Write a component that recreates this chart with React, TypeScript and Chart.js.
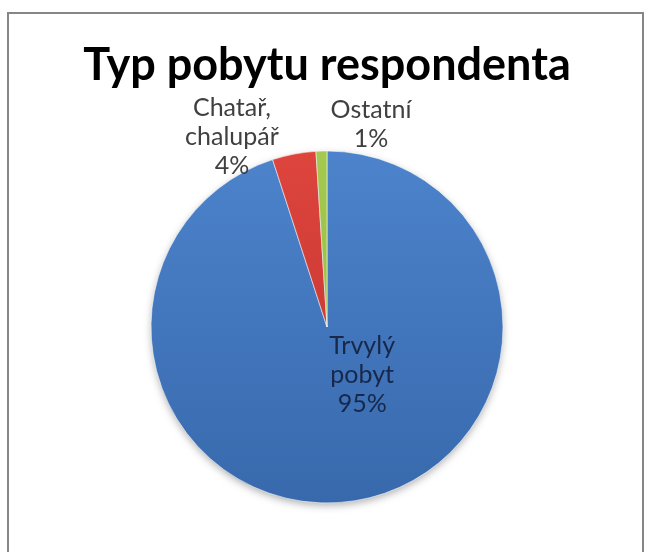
import React, { useEffect, useRef } from "react";
import { Chart, registerables } from "chart.js";
Chart.register(...registerables);

const TITLE = "Typ pobytu respondenta";
const categories = ["Trvylý pobyt", "Chatař, chalupář", "Ostatní"];
const labelLines = [["Trvylý", "pobyt"], ["Chatař,", "chalupář"], ["Ostatní"]];
const values = [95, 4, 1];
const percentLabels = ["95%", "4%", "1%"];
const topColors = ["#4f87d0", "#e2473f", "#a8cc52"];
const bottomColors = ["#3565a8", "#b8302b", "#8cb23c"];
const labelColors = ["#17284a", "#404040", "#404040"];
// label block centre relative to pie centre, in units of the outer radius
const labelOffsets = [
  [0.2, 0.27],
  [-0.54, -1.08],
  [0.25, -1.15],
];

const FONT = "Lato, 'Open Sans', sans-serif";

const framePlugin = {
  id: "frame",
  beforeDraw(chart: any) {
    const { ctx, width, height } = chart;
    ctx.save();
    ctx.fillStyle = "#ffffff";
    ctx.fillRect(0, 0, width, height);
    ctx.strokeStyle = "#868686";
    ctx.lineWidth = 2;
    ctx.strokeRect(8, 13, 635, height + 20);
    ctx.restore();
  },
};

const shadowPlugin = {
  id: "pieShadow",
  beforeDatasetsDraw(chart: any) {
    const arc = chart.getDatasetMeta(0).data[0];
    if (!arc) return;
    const { ctx } = chart;
    ctx.save();
    ctx.shadowColor = "rgba(0,0,0,0.35)";
    ctx.shadowBlur = 9;
    ctx.shadowOffsetY = 3;
    ctx.fillStyle = "#3d6fb3";
    ctx.beginPath();
    ctx.arc(arc.x, arc.y, arc.outerRadius - 1, 0, Math.PI * 2);
    ctx.fill();
    ctx.restore();
  },
};

const labelPlugin = {
  id: "sliceLabels",
  afterDatasetsDraw(chart: any) {
    const { ctx } = chart;
    const meta = chart.getDatasetMeta(0);
    ctx.save();
    ctx.font = `25px ${FONT}`;
    ctx.textAlign = "center";
    ctx.textBaseline = "middle";
    const pitch = 29;
    meta.data.forEach((arc: any, i: number) => {
      const lines = [...labelLines[i], percentLabels[i]];
      const cx = arc.x + labelOffsets[i][0] * arc.outerRadius;
      const cy = arc.y + labelOffsets[i][1] * arc.outerRadius;
      ctx.fillStyle = labelColors[i];
      const start = cy - ((lines.length - 1) * pitch) / 2;
      lines.forEach((ln, k) => ctx.fillText(ln, cx, start + k * pitch));
    });
    ctx.restore();
  },
};

export default function App() {
  const ref = useRef<HTMLCanvasElement>(null);
  useEffect(() => {
    if (!ref.current) return;
    const chart = new Chart(ref.current, {
      type: "pie",
      data: {
        labels: categories,
        datasets: [
          {
            data: values,
            radius: 176,
            backgroundColor: (c: any) => {
              const ch = c.chart;
              const i = c.dataIndex ?? 0;
              const area = ch.chartArea;
              if (!area) return topColors[i];
              const g = ch.ctx.createLinearGradient(0, area.top, 0, area.bottom);
              g.addColorStop(0, topColors[i]);
              g.addColorStop(1, bottomColors[i]);
              return g;
            },
            borderColor: "rgba(255,255,255,0.55)",
            borderWidth: 1,
          },
        ],
      },
      options: {
        responsive: false,
        animation: false,
        layout: { padding: { left: 8, right: 0, top: 0, bottom: 0 } },
        plugins: {
          legend: { display: false },
          tooltip: { enabled: false },
          title: {
            display: true,
            text: TITLE,
            color: "#000000",
            font: { family: FONT, size: 45, weight: "bold" },
            padding: { top: 38, bottom: 10 },
          },
        },
      },
      plugins: [framePlugin, shadowPlugin, labelPlugin],
    });
    return () => chart.destroy();
  }, []);
  return (
    <div style={{ position: "fixed", left: 0, top: 0, width: 646, height: 552 }}>
      <canvas ref={ref} width={646} height={552} style={{ display: "block" }} />
    </div>
  );
}
